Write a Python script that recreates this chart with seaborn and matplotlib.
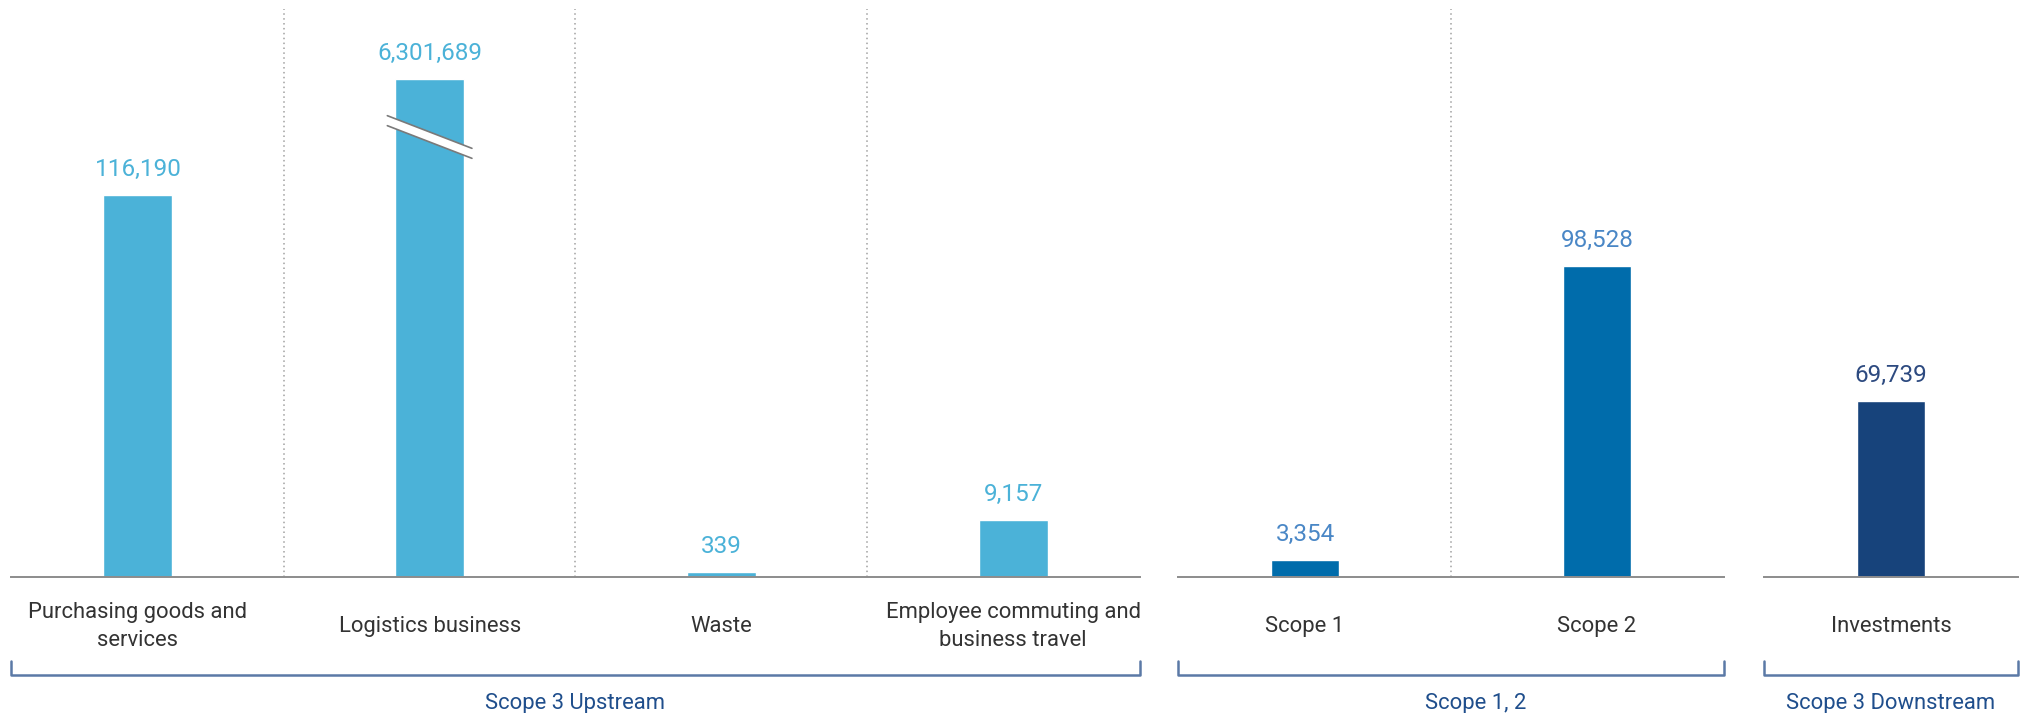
import numpy as np
import pandas as pd
import matplotlib
matplotlib.use("Agg")
import matplotlib.pyplot as plt
import seaborn as sns
from matplotlib.lines import Line2D
from matplotlib.patches import Polygon
import matplotlib.transforms as mtransforms

# ---------------- data ----------------
upstream_categories = ["Purchasing goods and\nservices", "Logistics business", "Waste",
                       "Employee commuting and\nbusiness travel"]
upstream_values = [116190, 6301689, 339, 9157]

scope12_categories = ["Scope 1", "Scope 2"]
scope12_values = [3354, 98528]

downstream_categories = ["Investments"]
downstream_values = [69739]

group_labels = ["Scope 3 Upstream", "Scope 1, 2", "Scope 3 Downstream"]

# ---------------- style ----------------
sns.set_theme(style="white")
plt.rcParams["font.family"] = ["Roboto", "DejaVu Sans"]

C_LIGHT = "#4BB2D8"
C_MID = "#006CAB"
C_DARK = "#17437B"
T_LIGHT = "#4BB2D8"
T_MID = "#4A87C6"
T_DARK = "#2D4A80"
C_CAT = "#333333"
C_BRACKET = "#5B79A6"
C_GROUP = "#1F4E8C"

W, H = 2021, 713
fig = plt.figure(figsize=(W / 100, H / 100), dpi=100)

top_px, base_px = 9, 577
ax_h = base_px - top_px
bottom = (H - base_px) / H
height = ax_h / H

panels = [
    dict(cats=upstream_categories, vals=upstream_values, color=C_LIGHT, tcol=T_LIGHT,
         x0=11, x1=1140, p=0.75, ref=116190, ref_px=382, brk=True, glx=0.5),
    dict(cats=scope12_categories, vals=scope12_values, color=C_MID, tcol=T_MID,
         x0=1178, x1=1724, p=0.86, ref=98528, ref_px=311, brk=False, glx=0.546),
    dict(cats=downstream_categories, vals=downstream_values, color=C_DARK, tcol=T_DARK,
         x0=1764, x1=2018, p=1.0, ref=69739, ref_px=176, brk=False, glx=0.5),
]


def power_scale(p):
    f = lambda v: np.power(np.clip(v, 0, None), p)
    g = lambda u: np.power(np.clip(u, 0, None), 1.0 / p)
    return f, g


def broken_scale(p, ref, ref_px, brk_px, big, big_px):
    s = ref_px / ref ** p
    uB = brk_px / s
    B = uB ** (1.0 / p)
    uL = big_px / s
    k = (uL - uB) / (big - B)

    def f(v):
        v = np.clip(np.asarray(v, dtype=float), 0, None)
        return np.where(v <= B, np.power(v, p), uB + (v - B) * k)

    def g(u):
        u = np.clip(np.asarray(u, dtype=float), 0, None)
        return np.where(u <= uB, np.power(u, 1.0 / p), B + (u - uB) / k)

    return f, g, s, uB


for gi, P in enumerate(panels):
    n = len(P["cats"])
    ax = fig.add_axes([P["x0"] / W, bottom, (P["x1"] - P["x0"]) / W, height])
    df = pd.DataFrame({"cat": P["cats"], "val": P["vals"]})
    sns.barplot(data=df, x="cat", y="val", color=P["color"], width=0.236,
                saturation=1, ax=ax, order=P["cats"])

    if P["brk"]:
        big = max(P["vals"])
        f, g, s, uB = broken_scale(P["p"], P["ref"], P["ref_px"], 440, big, 498)
        ax.set_yscale("function", functions=(f, g))
        ax.set_ylim(0, float(g(ax_h / s)))
        brk_frac = uB * s / ax_h
    else:
        f, g = power_scale(P["p"])
        s = P["ref_px"] / P["ref"] ** P["p"]
        ax.set_yscale("function", functions=(f, g))
        ax.set_ylim(0, float(g(ax_h / s)))

    ax.set_xlim(-0.435, n - 1 + 0.435)

    # spines / ticks
    for sp in ["top", "right", "left"]:
        ax.spines[sp].set_visible(False)
    ax.spines["bottom"].set_color("#8C8C8C")
    ax.spines["bottom"].set_linewidth(1.4)
    ax.set_yticks([])
    ax.set_ylabel("")
    ax.set_xlabel("")
    ax.tick_params(axis="x", length=0, pad=35.5)
    ax.set_xticks(range(n))
    ax.set_xticklabels(P["cats"], fontsize=15.8, color=C_CAT, va="center",
                       ha="center", linespacing=1.45)

    # dotted separators
    for i in range(n - 1):
        ax.axvline(i + 0.5, ymin=0, ymax=1, color="#A0A0A0", lw=1.1,
                   ls=(0, (1, 2.2)), zorder=0)

    # value labels
    for i, v in enumerate(P["vals"]):
        ax.annotate(f"{v:,}", xy=(i, v), xytext=(0, 14), textcoords="offset points",
                    ha="center", va="baseline", fontsize=17.5, color=P["tcol"])

    # axis-break mark on the tallest bar
    if P["brk"]:
        i = int(np.argmax(P["vals"]))
        tr = mtransforms.blended_transform_factory(ax.transData, ax.transAxes)
        dx = 0.145
        slope = 32 / 83 * (292 / ax_h)  # axes-fraction per data unit
        gap = 10 / ax_h
        xl, xr = i - dx, i + dx
        yc = brk_frac
        y_l = yc + dx * slope
        y_r = yc - dx * slope
        poly = Polygon([[xl, y_l + gap / 2], [xr, y_r + gap / 2],
                        [xr, y_r - gap / 2], [xl, y_l - gap / 2]],
                       closed=True, transform=tr, facecolor="white",
                       edgecolor="none", zorder=5, clip_on=False)
        ax.add_patch(poly)
        for sgn in (1, -1):
            ax.add_line(Line2D([xl, xr], [y_l + sgn * gap / 2, y_r + sgn * gap / 2],
                               transform=tr, color="#7A7A7A", lw=1.2, zorder=6,
                               clip_on=False))

    # group bracket
    yb = (base_px - 675) / ax_h
    yt = (base_px - 661) / ax_h
    ax.add_line(Line2D([0, 0, 1, 1], [yt, yb, yb, yt], transform=ax.transAxes,
                       color=C_BRACKET, lw=1.8, clip_on=False))
    ax.text(P["glx"], (base_px - 703) / ax_h, group_labels[gi], transform=ax.transAxes,
            ha="center", va="center", fontsize=15.8, color=C_GROUP)

fig.savefig("out.png", dpi=100)
